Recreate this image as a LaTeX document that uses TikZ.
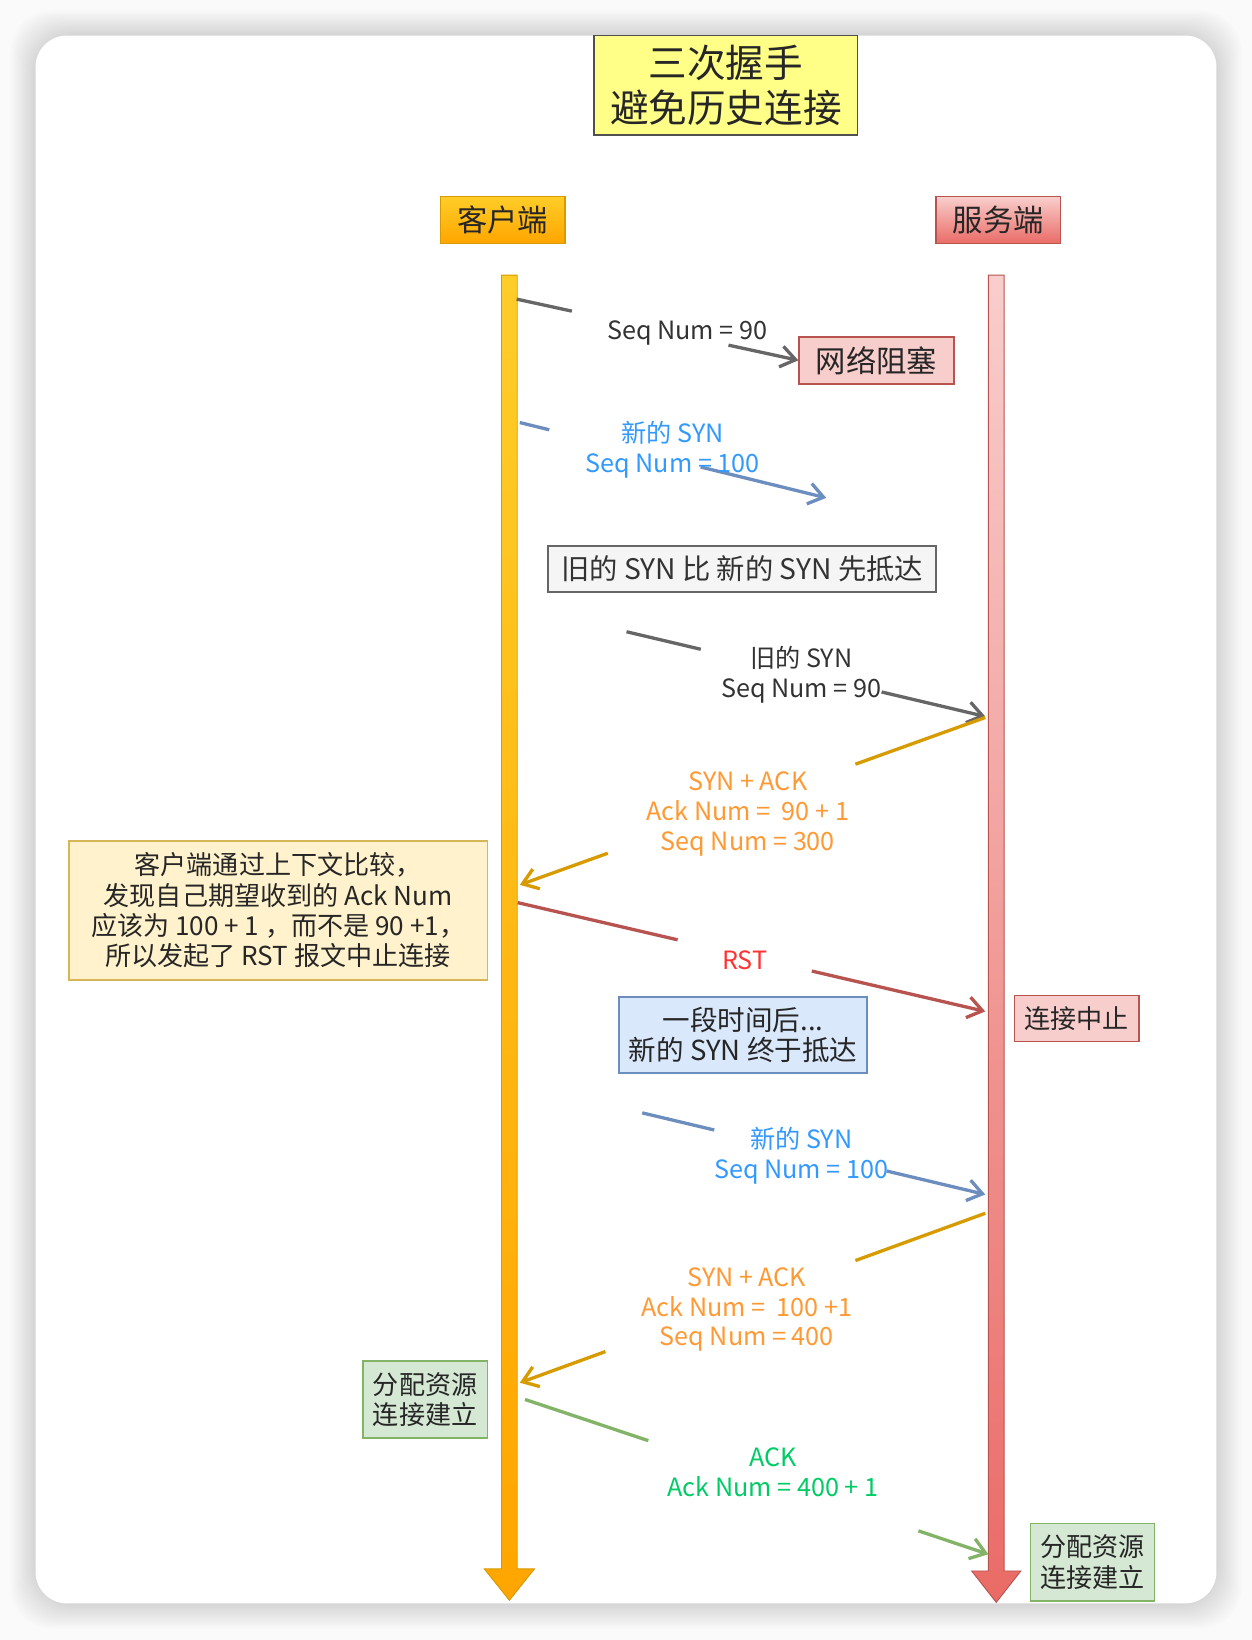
\documentclass[tikz,border=0pt]{standalone}
\usepackage{fontspec}
\setmainfont{Noto Sans CJK SC}
\usepackage{xcolor}
\usetikzlibrary{arrows.meta,calc}

\definecolor{pagebg}{RGB}{250,250,250}
\definecolor{titlefill}{RGB}{255,255,136}
\definecolor{titledraw}{RGB}{80,80,80}
\definecolor{cliTop}{RGB}{255,205,40}
\definecolor{cliBot}{RGB}{255,165,0}
\definecolor{cliDraw}{RGB}{215,155,0}
\definecolor{srvTop}{RGB}{248,206,204}
\definecolor{srvBot}{RGB}{234,107,102}
\definecolor{srvDraw}{RGB}{184,84,80}
\definecolor{grayline}{RGB}{102,102,102}
\definecolor{graytext}{RGB}{51,51,51}
\definecolor{grayfill}{RGB}{245,245,245}
\definecolor{blueline}{RGB}{108,142,191}
\definecolor{bluetext}{RGB}{51,153,255}
\definecolor{bluefill}{RGB}{218,232,252}
\definecolor{orangeline}{RGB}{215,155,0}
\definecolor{orangetext}{RGB}{255,153,51}
\definecolor{redline}{RGB}{184,84,80}
\definecolor{redtext}{RGB}{255,51,51}
\definecolor{greenline}{RGB}{130,179,102}
\definecolor{greentext}{RGB}{0,204,102}
\definecolor{greenfill}{RGB}{213,232,212}
\definecolor{notefill}{RGB}{255,242,204}
\definecolor{notedraw}{RGB}{214,182,86}

\tikzset{
  box/.style={draw, rectangle, align=center, inner sep=0pt, line width=0.8pt, text=black!85},
  msg/.style={line width=1.8pt},
  tip/.style={-{Straight Barb[length=2.8mm,width=4mm]}},
  lbl/.style={align=center, inner sep=0pt, font=\fontsize{13.7}{16.3}\selectfont},
}

\begin{document}
\begin{tikzpicture}[x=0.02cm, y=-0.02cm]
    % Page and card
    \fill[pagebg] (0,0) rectangle (1197,1568);
    \useasboundingbox (0,0) rectangle (1197,1568);
    \foreach \r in {1,...,12}
        \fill[black, opacity=0.012, rounded corners=0.8cm] ({34-2*\r},{34-2*\r}) rectangle ({1163+2*\r},{1533+2*\r});
    \fill[white, rounded corners=0.6cm] (34,34) rectangle (1163,1533);

    % Title
    \node[box, fill=titlefill, draw=titledraw, minimum width=5.04cm, minimum height=1.9cm,
          font=\fontsize{21}{24.5}\selectfont] (title) at (694,81.5) {三次握手\\避免历史连接};

    % Hosts
    \node[box, top color=cliTop, bottom color=cliBot, draw=cliDraw, minimum width=2.38cm, minimum height=0.9cm,
          font=\fontsize{16.5}{19}\selectfont] (client) at (480.5,210.5) {客户端};
    \node[box, top color=srvTop, bottom color=srvBot, draw=srvDraw, minimum width=2.38cm, minimum height=0.9cm,
          font=\fontsize{16.5}{19}\selectfont] (server) at (954.5,210.5) {服务端};

    % Lifelines
    \path[draw=cliDraw, line width=0.5pt, top color=cliTop, bottom color=cliBot]
        (479.5,263) -- (494.5,263) -- (494.5,1500) -- (511,1500) -- (487,1530) -- (463,1500) -- (479.5,1500) -- cycle;
    \path[draw=srvDraw, line width=0.5pt, top color=srvTop, bottom color=srvBot]
        (945,263) -- (960,263) -- (960,1502) -- (976,1502) -- (952.5,1532) -- (929,1502) -- (945,1502) -- cycle;

    % Notes
    \node[box, fill=srvTop, draw=srvDraw, minimum width=2.96cm, minimum height=0.9cm,
          font=\fontsize{16.5}{19}\selectfont] (block) at (838,344.5) {网络阻塞};
    \node[box, fill=grayfill, draw=grayline, text=graytext, minimum width=7.42cm, minimum height=0.88cm,
          font=\fontsize{15.4}{18}\selectfont] (order) at (709.5,544) {旧的 SYN 比 新的 SYN 先抵达};
    \node[box, fill=notefill, draw=notedraw, minimum width=8cm, minimum height=2.66cm,
          font=\fontsize{14.2}{16.5}\selectfont] (check) at (266,870.5)
          {客户端通过上下文比较，\\发现自己期望收到的 Ack Num\\应该为 100 + 1 ，而不是 90 +1，\\所以发起了 RST 报文中止连接};
    \node[box, fill=srvTop, draw=srvDraw, minimum width=2.38cm, minimum height=0.88cm,
          font=\fontsize{14.2}{16.5}\selectfont] (abort) at (1029.5,974) {连接中止};
    \node[box, fill=bluefill, draw=blueline, minimum width=4.74cm, minimum height=1.46cm,
          font=\fontsize{15}{16.5}\selectfont] (later) at (710.5,989.5) {一段时间后...\\新的 SYN 终于抵达};
    \node[box, fill=greenfill, draw=greenline, minimum width=2.38cm, minimum height=1.48cm,
          font=\fontsize{14.2}{16.5}\selectfont] (estc) at (406.5,1338) {分配资源\\连接建立};
    \node[box, fill=greenfill, draw=greenline, minimum width=2.38cm, minimum height=1.48cm,
          font=\fontsize{14.2}{16.5}\selectfont] (ests) at (1044.5,1493.5) {分配资源\\连接建立};

    % Message end points
    \coordinate (c1) at (494,286);
    \coordinate (c2) at (497,404);
    \coordinate (e2) at (790,476);
    \coordinate (c3) at (599,604);
    \coordinate (s3) at (942,685);
    \coordinate (s4) at (942,686);
    \coordinate (c4) at (497,846);
    \coordinate (c5) at (495,863);
    \coordinate (s5) at (942,967);
    \coordinate (c6) at (614,1064);
    \coordinate (s6) at (942,1142);
    \coordinate (s7) at (942,1160);
    \coordinate (c7) at (497,1322);
    \coordinate (c8) at (502,1338);
    \coordinate (s8) at (945,1486);

    % Old SYN, blocked
    \draw[msg, grayline] (c1) -- ($(c1)!0.196!(block.west)$);
    \draw[msg, grayline, tip] ($(c1)!0.752!(block.west)$) -- (block.west);
    \node[lbl, text=graytext] (m1) at (657,318) {Seq Num = 90};

    % New SYN
    \draw[msg, blueline] (c2) -- ($(c2)!0.096!(e2)$);
    \draw[msg, blueline, tip] ($(c2)!0.59!(e2)$) -- (e2);
    \node[lbl, text=bluetext] (m2) at (643,430) {新的 SYN\\Seq Num = 100};

    % Old SYN arrives
    \draw[msg, grayline] (c3) -- ($(c3)!0.207!(s3)$);
    \draw[msg, grayline, tip] ($(c3)!0.711!(s3)$) -- (s3);
    \node[lbl, text=graytext] (m3) at (766,645) {旧的 SYN\\Seq Num = 90};

    % SYN + ACK for 90
    \draw[msg, orangeline] (s4) -- ($(s4)!0.279!(c4)$);
    \draw[msg, orangeline, tip] ($(s4)!0.811!(c4)$) -- (c4);
    \node[lbl, text=orangetext] (m4) at (715,778) {SYN + ACK\\Ack Num =~~90 + 1\\Seq Num = 300};

    % RST
    \draw[msg, redline] (c5) -- ($(c5)!0.342!(s5)$);
    \draw[msg, redline, tip] ($(c5)!0.629!(s5)$) -- (s5);
    \node[lbl, text=redtext] (m5) at (712,918) {RST};

    % New SYN arrives
    \draw[msg, blueline] (c6) -- ($(c6)!0.21!(s6)$);
    \draw[msg, blueline, tip] ($(c6)!0.713!(s6)$) -- (s6);
    \node[lbl, text=bluetext] (m6) at (766,1105) {新的 SYN\\Seq Num = 100};

    % SYN + ACK for 100
    \draw[msg, orangeline] (s7) -- ($(s7)!0.279!(c7)$);
    \draw[msg, orangeline, tip] ($(s7)!0.816!(c7)$) -- (c7);
    \node[lbl, text=orangetext] (m7) at (714,1252) {SYN + ACK\\Ack Num =~~100 +1\\Seq Num = 400};

    % ACK
    \draw[msg, greenline] (c8) -- ($(c8)!0.266!(s8)$);
    \draw[msg, greenline, tip] ($(c8)!0.849!(s8)$) -- (s8);
    \node[lbl, text=greentext] (m8) at (739,1408) {ACK\\Ack Num = 400 + 1};
\end{tikzpicture}
\end{document}
